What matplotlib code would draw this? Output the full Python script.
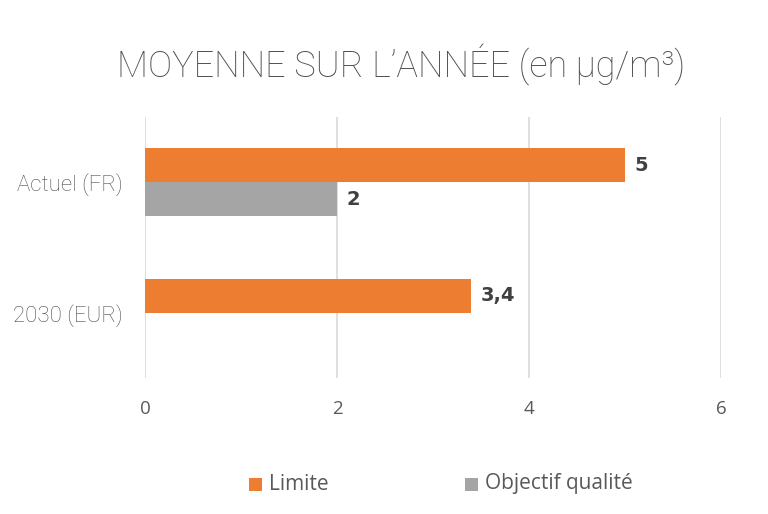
import matplotlib
matplotlib.use("Agg")
import matplotlib.pyplot as plt
import numpy as np
from matplotlib.patches import Rectangle

categories = ["Actuel (FR)", "2030 (EUR)"]
limite = [5, 3.4]
objectif = [2, None]
limite_labels = ["5", "3,4"]
objectif_labels = ["2", ""]
series_names = ["Limite", "Objectif qualité"]
xticks = [0, 2, 4, 6]

orange = "#ED7D31"
gray = "#A5A5A5"
txt = "#595959"

fig = plt.figure(figsize=(7.68, 5.14), dpi=100)
ax = fig.add_axes([145/768, 1-378/514, (721-145)/768, (378-117)/514])

y = np.array([1, 0], dtype=float)  # Actuel on top
h = 0.26
ax.barh(y + h/2, limite, height=h, color=orange, zorder=3)
obj_vals = [v if v is not None else 0 for v in objectif]
ax.barh(y - h/2, obj_vals, height=h, color=gray, zorder=3)

for yi, v, lab in zip(y, limite, limite_labels):
    ax.text(v + 0.1, yi + h/2, lab, va="center", ha="left", fontsize=14,
            fontweight="bold", family="DejaVu Sans", color="#404040")
for yi, v, lab in zip(y, objectif, objectif_labels):
    if v is not None and lab:
        ax.text(v + 0.1, yi - h/2, lab, va="center", ha="left", fontsize=14,
                fontweight="bold", family="DejaVu Sans", color="#404040")

ax.set_xlim(0, 6)
ax.set_ylim(-0.5, 1.5)
ax.set_xticks(xticks)
ax.set_xticklabels([str(t) for t in xticks], fontsize=13.5, color=txt, family="Open Sans")
ax.set_yticks(y)
ax.set_yticklabels(categories, fontsize=16, color="#505050", family="Roboto", fontweight="light")
ax.tick_params(axis="both", length=0)
ax.tick_params(axis="x", pad=16)
ax.tick_params(axis="y", pad=16)
ax.grid(axis="x", color="#D9D9D9", linewidth=1.2, zorder=0)
for s in ax.spines.values():
    s.set_visible(False)

fig.text(0.5 * (117 + 686) / 768, 1 - 65/514, "MOYENNE SUR L’ANNÉE (en µg/m³)", ha="center", va="center",
         fontsize=26, color="#505050", family="Roboto", fontweight="light")

# legend
leg_items = [(249, orange, series_names[0]), (465, gray, series_names[1])]
for x0, col, name in leg_items:
    fig.add_artist(Rectangle((x0/768, 1-491/514), 13/768, 13/514, transform=fig.transFigure,
                             color=col, lw=0))
    fig.text((x0 + 20)/768, 1-484/514, name, ha="left", va="center", fontsize=15,
             color=txt, family="Open Sans")

fig.savefig("out.png", dpi=100)
